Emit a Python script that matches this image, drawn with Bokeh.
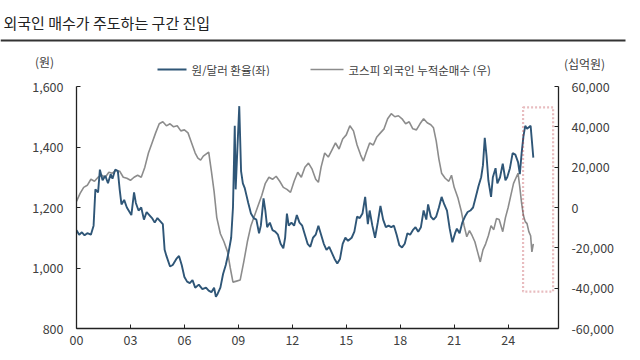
from bokeh.plotting import figure
from bokeh.models import (Range1d, LinearAxis, FixedTicker, NumeralTickFormatter,
                          BoxAnnotation)
from bokeh.core.properties import value
from bokeh.embed import file_html
from bokeh.resources import INLINE

FONT = "Noto Sans CJK KR"

title_text = "외국인 매수가 주도하는 구간 진입"
fx_label = "원/달러 환율(좌)"
flow_label = "코스피 외국인 누적순매수 (우)"
left_unit = "(원)"
right_unit = "(십억원)"

x_ticks = [2000, 2003, 2006, 2009, 2012, 2015, 2018, 2021, 2024]
x_tick_labels = ["00", "03", "06", "09", "12", "15", "18", "21", "24"]
left_ticks = [800, 1000, 1200, 1400, 1600]
right_ticks = [-60000, -40000, -20000, 0, 20000, 40000, 60000]

fx_year = [2000.0, 2000.15, 2000.3, 2000.45, 2000.6, 2000.8, 2000.95, 2001.05, 2001.2, 2001.3,
           2001.45, 2001.6, 2001.75, 2001.9, 2002.0, 2002.15, 2002.3, 2002.4, 2002.5, 2002.65,
           2002.8, 2002.95, 2003.05, 2003.2, 2003.3, 2003.45, 2003.6, 2003.75, 2003.9, 2004.05,
           2004.2, 2004.35, 2004.5, 2004.65, 2004.8, 2004.9, 2005.0, 2005.2, 2005.35, 2005.55,
           2005.7, 2005.85, 2006.0, 2006.15, 2006.3, 2006.45, 2006.6, 2006.8, 2007.0, 2007.2,
           2007.35, 2007.5, 2007.65, 2007.75, 2007.85, 2008.0, 2008.15, 2008.3, 2008.45, 2008.6,
           2008.7, 2008.8, 2008.85, 2008.95, 2009.05, 2009.15, 2009.25, 2009.35, 2009.45, 2009.55,
           2009.7, 2009.85, 2010.0, 2010.15, 2010.25, 2010.4, 2010.5, 2010.6, 2010.75, 2010.9,
           2011.05, 2011.2, 2011.35, 2011.5, 2011.6, 2011.7, 2011.8, 2011.95, 2012.1, 2012.25,
           2012.4, 2012.55, 2012.7, 2012.85, 2013.0, 2013.15, 2013.3, 2013.45, 2013.6, 2013.75,
           2013.9, 2014.05, 2014.2, 2014.35, 2014.5, 2014.65, 2014.8, 2014.95, 2015.1, 2015.3,
           2015.45, 2015.6, 2015.75, 2015.9, 2016.05, 2016.2, 2016.3, 2016.45, 2016.6, 2016.75,
           2016.9, 2017.05, 2017.2, 2017.35, 2017.5, 2017.65, 2017.8, 2017.95, 2018.1, 2018.25,
           2018.4, 2018.55, 2018.7, 2018.85, 2019.0, 2019.15, 2019.3, 2019.45, 2019.55, 2019.7,
           2019.85, 2020.0, 2020.15, 2020.3, 2020.45, 2020.6, 2020.75, 2020.9, 2021.05, 2021.15,
           2021.3, 2021.45, 2021.6, 2021.75, 2021.9, 2022.05, 2022.2, 2022.35, 2022.5, 2022.6,
           2022.7, 2022.8, 2022.9, 2023.05, 2023.15, 2023.3, 2023.4, 2023.55, 2023.7, 2023.85,
           2023.95, 2024.1, 2024.25, 2024.4, 2024.55, 2024.65, 2024.75, 2024.85, 2024.95, 2025.05,
           2025.15, 2025.25, 2025.4]
fx_rate = [1125, 1110, 1118, 1108, 1115, 1110, 1140, 1260, 1250, 1325,
           1290, 1305, 1280, 1310, 1295, 1325, 1320, 1260, 1210, 1225,
           1200, 1185, 1175, 1250, 1215, 1190, 1200, 1160, 1185, 1175,
           1165, 1150, 1165, 1155, 1145, 1060, 1040, 1005, 1010, 1030,
           1040, 1010, 970, 955, 950, 960, 935, 945, 930, 935,
           925, 920, 935, 905, 915, 935, 980, 1010, 1050, 1100,
           1200, 1470, 1260, 1400, 1535, 1320, 1280, 1265, 1240, 1215,
           1180, 1165, 1160, 1115, 1140, 1230, 1190, 1135, 1150, 1125,
           1120, 1110, 1080, 1065, 1100, 1180, 1140, 1150, 1140, 1175,
           1150, 1140, 1110, 1080, 1070, 1100, 1110, 1140, 1110, 1080,
           1060, 1070, 1050, 1030, 1015, 1030, 1080, 1100, 1090, 1100,
           1120, 1170, 1165, 1180, 1235, 1145, 1190, 1140, 1100, 1150,
           1205, 1160, 1135, 1140, 1135, 1140, 1110, 1075, 1068, 1080,
           1115, 1110, 1125, 1135, 1120, 1135, 1190, 1160, 1210, 1170,
           1160, 1170, 1200, 1235, 1210, 1190, 1130, 1085, 1115, 1130,
           1115, 1150, 1170, 1185, 1190, 1200, 1235, 1270, 1300, 1340,
           1430, 1370, 1290, 1235, 1300, 1330, 1280, 1300, 1345, 1290,
           1300, 1330, 1380, 1375, 1350, 1310, 1380, 1435, 1470, 1460,
           1465, 1470, 1365]

flow_year = [2000.0, 2000.2, 2000.4, 2000.6, 2000.8, 2001.0, 2001.2, 2001.4, 2001.6, 2001.8,
             2002.0, 2002.2, 2002.4, 2002.6, 2002.8, 2003.0, 2003.2, 2003.4, 2003.6, 2003.8,
             2004.0, 2004.2, 2004.4, 2004.6, 2004.8, 2005.0, 2005.2, 2005.4, 2005.6, 2005.8,
             2006.0, 2006.2, 2006.4, 2006.6, 2006.75, 2006.9, 2007.05, 2007.2, 2007.35, 2007.5,
             2007.65, 2007.8, 2008.0, 2008.2, 2008.4, 2008.55, 2008.7, 2008.9, 2009.1, 2009.3,
             2009.5, 2009.7, 2009.9, 2010.1, 2010.3, 2010.5, 2010.7, 2010.9, 2011.1, 2011.3,
             2011.5, 2011.7, 2011.9, 2012.1, 2012.3, 2012.5, 2012.7, 2012.9, 2013.1, 2013.3,
             2013.45, 2013.6, 2013.8, 2014.0, 2014.2, 2014.4, 2014.6, 2014.8, 2015.0, 2015.2,
             2015.4, 2015.6, 2015.8, 2015.95, 2016.1, 2016.3, 2016.5, 2016.7, 2016.9, 2017.1,
             2017.3, 2017.5, 2017.7, 2017.9, 2018.1, 2018.3, 2018.5, 2018.7, 2018.9, 2019.1,
             2019.3, 2019.5, 2019.7, 2019.85, 2020.0, 2020.15, 2020.3, 2020.5, 2020.7, 2020.85,
             2021.0, 2021.2, 2021.4, 2021.55, 2021.7, 2021.85, 2022.0, 2022.15, 2022.3, 2022.45,
             2022.6, 2022.75, 2022.9, 2023.05, 2023.2, 2023.35, 2023.5, 2023.7, 2023.85, 2024.0,
             2024.15, 2024.3, 2024.45, 2024.55, 2024.65, 2024.75, 2024.85, 2024.95, 2025.05, 2025.15,
             2025.25, 2025.32, 2025.4]
flow_net = [3000, 7000, 10000, 11000, 14000, 13000, 15000, 16000, 15000, 17500,
            17000, 18500, 18000, 15000, 14500, 13500, 15000, 16000, 15000, 20000,
            27000, 32000, 37000, 41500, 42500, 40500, 41500, 40000, 40500, 38000,
            38500, 37000, 32000, 27000, 24500, 23500, 25500, 26500, 27500, 18000,
            8000, -5000, -13000, -17000, -22000, -30000, -37000, -36500, -36000, -27000,
            -17000, -9000, -4000, 1000, 6000, 12000, 15000, 14000, 15500, 13000,
            10000, 9000, 7500, 13000, 17500, 15000, 20000, 22000, 19000, 14000,
            12500, 20000, 27000, 25000, 28500, 32000, 29000, 34000, 36000, 40500,
            38000, 31000, 26000, 23000, 27000, 32000, 31000, 35000, 37000, 39000,
            44000, 46500, 45000, 45500, 44000, 41500, 42500, 39000, 38500, 41500,
            44000, 42000, 41000, 39500, 33000, 24000, 17000, 14500, 13000, 16000,
            10000, 5000, -2000, -9000, -14500, -11500, -14000, -17000, -22000, -27000,
            -21000, -18000, -14000, -9000, -11000, -5500, -6000, -12000, -5000, 0,
            6000, 12000, 15000, 17000, 10000, 2000, -4000, -7000, -8000, -12000,
            -14000, -22000, -18000]

# highlighted period (dotted box), in years and left-axis units
highlight_x = (2024.83, 2026.5)
highlight_y = (922, 1531)

BLUE = "#2f5677"
GRAY = "#8c8c8c"
TXT = "#404040"
W = 640
HEAD_H = 76
MAIN_H = 284
B_LEFT, B_RIGHT = 76, 82

# ---------- header (separate root, so no frame alignment): pixel coordinates ----------
head = figure(width=W, height=HEAD_H, output_backend="svg", toolbar_location=None,
              x_range=Range1d(0, W), y_range=Range1d(HEAD_H, 0),
              min_border=0, min_border_left=0, min_border_right=0,
              min_border_top=0, min_border_bottom=0,
              x_axis_type=None, y_axis_type=None)
head.outline_line_color = None
head.grid.grid_line_color = None

def htext(txt, x, y, size, color=TXT, align="left"):
    head.text(x=[x], y=[y], text=[txt], text_font=value(FONT), text_font_size=size,
              text_color=color, text_align=align, text_baseline="middle")

htext(title_text, 3, 22, "15px", color="#222222")
head.segment(x0=[0], y0=[40], x1=[625], y1=[40], line_color="#333333", line_width=2)
head.segment(x0=[157], y0=[69], x1=[186], y1=[69], line_color=BLUE, line_width=2)
htext(fx_label, 191, 69, "11.5px")
head.segment(x0=[310], y0=[69], x1=[343], y1=[69], line_color=GRAY, line_width=1.6)
htext(flow_label, 348, 69, "11.5px")
htext(left_unit, 44, 61, "12px", align="center")
htext(right_unit, 584, 63, "12px", align="center")

# ---------- main chart ----------
p = figure(width=W, height=MAIN_H, output_backend="svg", toolbar_location=None,
           x_range=Range1d(2000, 2026.8), y_range=Range1d(800, 1600),
           min_border_left=B_LEFT, min_border_right=B_RIGHT,
           min_border_top=10, min_border_bottom=32)
p.outline_line_color = None
p.grid.grid_line_color = None

p.extra_y_ranges = {"right": Range1d(-60000, 60000)}

p.line(flow_year, flow_net, y_range_name="right", line_color=GRAY, line_width=1.6)
p.line(fx_year, fx_rate, line_color=BLUE, line_width=1.9)

box = BoxAnnotation(left=highlight_x[0], right=highlight_x[1],
                    bottom=highlight_y[0], top=highlight_y[1],
                    fill_alpha=0, line_color="#b3202a", line_width=2.2, line_dash="2 2")
p.add_layout(box)

def style_axis(ax):
    ax.axis_line_color = "#222222"
    ax.axis_line_width = 1.3
    ax.major_tick_in = 4
    ax.major_tick_out = 0
    ax.minor_tick_line_color = None
    ax.major_tick_line_color = "#222222"
    ax.major_label_text_font = FONT
    ax.major_label_text_font_size = "12.5px"
    ax.major_label_text_color = TXT

xa = p.xaxis[0]
xa.ticker = FixedTicker(ticks=x_ticks)
xa.major_label_overrides = {t: l for t, l in zip(x_ticks, x_tick_labels)}
xa.major_label_standoff = 6
style_axis(xa)

ya = p.yaxis[0]
ya.ticker = FixedTicker(ticks=left_ticks)
ya.formatter = NumeralTickFormatter(format="0,0")
ya.major_label_standoff = 13
style_axis(ya)

ra = LinearAxis(y_range_name="right", ticker=FixedTicker(ticks=right_ticks),
                formatter=NumeralTickFormatter(format="0,0"))
ra.major_label_standoff = 13
style_axis(ra)
p.add_layout(ra, "right")

open("out.html", "w").write(file_html([head, p], INLINE))
